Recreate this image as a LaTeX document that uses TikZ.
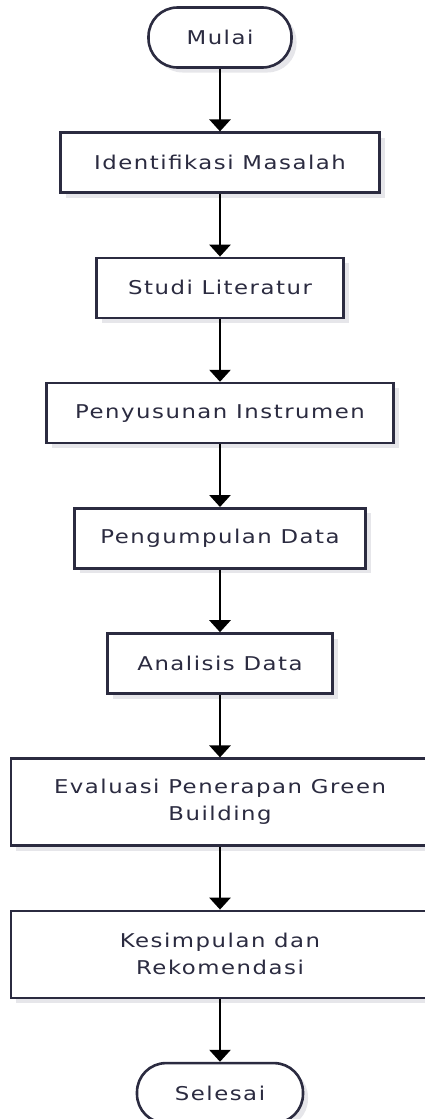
\documentclass[tikz,border=0pt]{standalone}
\usepackage{fontspec}
\setmainfont{DejaVu Sans}[FakeStretch=1.2, LetterSpace=8]
\usepackage{tikz}
\usetikzlibrary{shapes,arrows.meta,positioning,shadows}
\definecolor{navy}{HTML}{2B2B40}
\definecolor{shade}{HTML}{E6E6EA}

\begin{document}
\begin{tikzpicture}[
	x=1pt, y=1pt,
	node distance=62.6pt,
	font=\fontsize{19}{27}\selectfont
	]
\tikzset{
	base/.style = { rectangle, text centered, draw=navy, line width=2.6pt, fill=white, text=navy, minimum height=60pt,
		drop shadow={shadow xshift=5pt, shadow yshift=-5pt, fill=shade, opacity=1} },
	terminal/.style = { base, rounded corners=29pt },
	process/.style = { base },
	wideprocess/.style = { base, minimum width=418pt, minimum height=87pt, align=center },
	arrow/.style = { line width=2.8pt, -{Triangle[width=21pt,length=12pt]} }
}
	\useasboundingbox (0,0) rectangle (424,-1119);

	% nodes
	\node (start) [terminal, minimum width=143pt] at (220,-37.5) {Mulai};
	\node (identifikasi) [process, minimum width=319pt, below=of start] {Identifikasi Masalah};
	\node (studi) [process, minimum width=247pt, below=of identifikasi] {Studi Literatur};
	\node (instrumen) [process, minimum width=347pt, below=of studi] {Penyusunan Instrumen};
	\node (pengumpulan) [process, minimum width=291pt, below=of instrumen] {Pengumpulan Data};
	\node (analisis) [process, minimum width=225pt, below=of pengumpulan] {Analisis Data};
	\node (evaluasi) [wideprocess, below=of analisis] {Evaluasi Penerapan Green\\Building};
	\node (kesimpulan) [wideprocess, below=of evaluasi] {Kesimpulan dan\\Rekomendasi};
	\node (finish) [terminal, minimum width=166pt, below=of kesimpulan] {Selesai};

	% paths
	\draw [arrow] (start) -- (identifikasi);
	\draw [arrow] (identifikasi) -- (studi);
	\draw [arrow] (studi) -- (instrumen);
	\draw [arrow] (instrumen) -- (pengumpulan);
	\draw [arrow] (pengumpulan) -- (analisis);
	\draw [arrow] (analisis) -- (evaluasi);
	\draw [arrow] (evaluasi) -- (kesimpulan);
	\draw [arrow] (kesimpulan) -- (finish);
\end{tikzpicture}
\end{document}
